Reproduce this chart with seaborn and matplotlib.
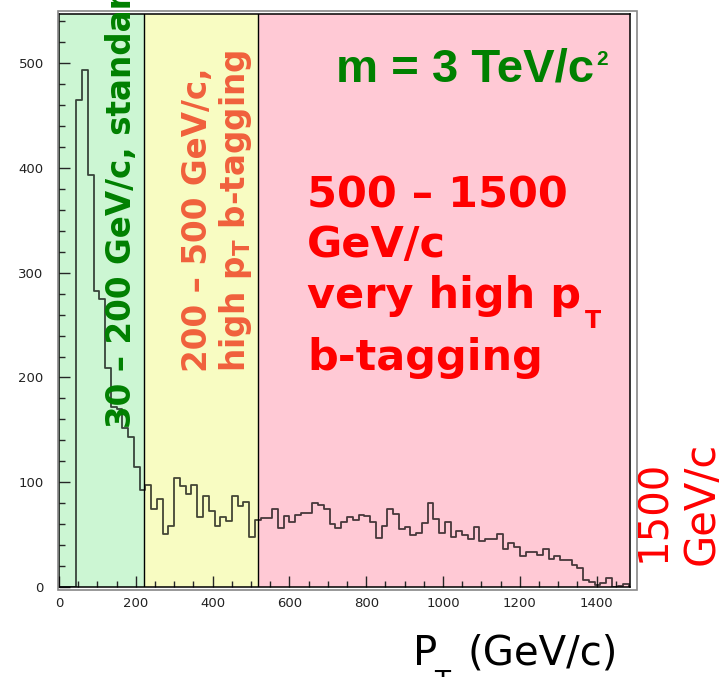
import pandas as pd
import matplotlib
matplotlib.use("Agg")
import matplotlib.pyplot as plt
import matplotlib.patches as patches
from matplotlib.ticker import MultipleLocator
import seaborn as sns

# Histogram contents, 15 GeV/c bins from 0 to 1500 GeV/c
bin_width = 15
counts = [
    0, 0, 0, 465, 494, 393, 283, 275, 209, 172,
    170, 152, 143, 115, 93, 97, 74, 84, 51, 58,
    104, 96, 89, 97, 67, 87, 73, 58, 67, 63,
    87, 77, 81, 48, 64, 66, 66, 74, 56, 68,
    62, 69, 71, 71, 80, 78, 74, 60, 56, 62,
    67, 64, 69, 68, 62, 47, 58, 74, 70, 55,
    57, 50, 52, 61, 80, 65, 52, 62, 48, 53,
    50, 46, 57, 44, 46, 46, 51, 36, 42, 38,
    30, 33, 33, 31, 36, 27, 30, 26, 26, 21,
    18, 7, 5, 2, 4, 9, 0, 1, 3, 0,
]
edges = [i * bin_width for i in range(len(counts) + 1)]
df = pd.DataFrame({"pt": [e + bin_width / 2 for e in edges[:-1]], "n": counts})

# pT regions (GeV/c) as drawn on the plot
region_edges = [0, 222, 519, 1487]
region_colors = ["#ccf6d3", "#f8fcc2", "#ffc9d5"]

W, H = 722, 677

sns.set_style("ticks")
plt.rcParams["font.family"] = ["DejaVu Sans"]

fig = plt.figure(figsize=(W / 100, H / 100), dpi=100)
ax = fig.add_axes([59 / W, 1 - 587 / H, (630 - 59) / W, (587 - 14) / H])


def fx(px):
    return px / W


def fy(py):
    return 1 - py / H


for lo, hi, c in zip(region_edges[:-1], region_edges[1:], region_colors):
    ax.axvspan(lo, hi, color=c, zorder=0, lw=0)
for b in region_edges[1:-1]:
    ax.axvline(b, color="black", lw=1.0, zorder=1)

sns.histplot(data=df, x="pt", weights="n", bins=edges, element="step", fill=False,
             color="black", alpha=0.72, linewidth=1.3, ax=ax, zorder=2)

ax.set_xlim(0, region_edges[-1])
ax.set_ylim(0, 547)
ax.set_xlabel("")
ax.set_ylabel("")
ax.xaxis.set_major_locator(MultipleLocator(200))
ax.xaxis.set_minor_locator(MultipleLocator(50))
ax.yaxis.set_major_locator(MultipleLocator(100))
ax.yaxis.set_minor_locator(MultipleLocator(20))
ax.tick_params(axis="both", which="major", direction="in", length=8, width=1,
               labelsize=9.5, labelcolor="#222222")
ax.tick_params(axis="both", which="minor", direction="in", length=4.5, width=1)
ax.tick_params(axis="x", which="major", pad=7)
ax.tick_params(axis="y", which="major", pad=11)
for s in ax.spines.values():
    s.set_linewidth(1.1)
    s.set_color("black")

# ROOT-like outer frame
fig.patches.append(patches.Rectangle((fx(58), fy(590)), fx(637) - fx(58), fy(11) - fy(590),
                                     transform=fig.transFigure, fill=False,
                                     edgecolor="#888888", lw=1.2, zorder=5))

green = "#008000"
orange = "#f0603c"
red = "#ff0000"

# mass label
fig.text(fx(336), fy(81), "m = 3 TeV/c", color=green, fontsize=34, fontweight="bold",
         family=["Liberation Sans"], va="baseline", ha="left")
fig.text(fx(596), fy(65), "2", color=green, fontsize=15, fontweight="bold",
         family=["Liberation Sans"], va="baseline", ha="left")

# region labels
red_lines = [("500 – 1500", 208), ("GeV/c", 257), ("very high p", 308), ("b-tagging", 370)]
red_texts = []
for txt, base in red_lines:
    red_texts.append(fig.text(fx(307), fy(base), txt, color=red, fontsize=31,
                              fontweight="bold", va="baseline", ha="left"))
fig.text(fx(585), fy(328), "T", color=red, fontsize=17, fontweight="bold",
         va="baseline", ha="left")

fig.text(fx(130.5), fy(428), "30 – 200 GeV/c, standard", color=green, fontsize=23.5,
         fontweight="bold", rotation=90, rotation_mode="anchor", ha="left", va="baseline")
fig.text(fx(206.5), fy(372), "200 – 500 GeV/c,", color=orange, fontsize=23.5,
         fontweight="bold", rotation=90, rotation_mode="anchor", ha="left", va="baseline")
fig.text(fx(245), fy(372), "high p$_{\\mathbf{T}}$ b-tagging", color=orange, fontsize=23.5,
         fontweight="bold", rotation=90, rotation_mode="anchor", ha="left", va="baseline")

fig.text(fx(665), fy(562), "1500", color=red, fontsize=29, rotation=90,
         rotation_mode="anchor", ha="left", va="baseline")
fig.text(fx(714), fy(565), "GeV/c", color=red, fontsize=30, rotation=90,
         rotation_mode="anchor", ha="left", va="baseline")

# axis title, subscript partly cut by the lower edge as in the original
fig.text(fx(413), fy(665), "P", color="black", fontsize=29, va="baseline", ha="left")
fig.text(fx(434), fy(670), "T", color="black", fontsize=19, va="top", ha="left")
fig.text(fx(467), fy(665), "(GeV/c)", color="black", fontsize=29, va="baseline", ha="left")

fig.savefig("out.png", dpi=100)
